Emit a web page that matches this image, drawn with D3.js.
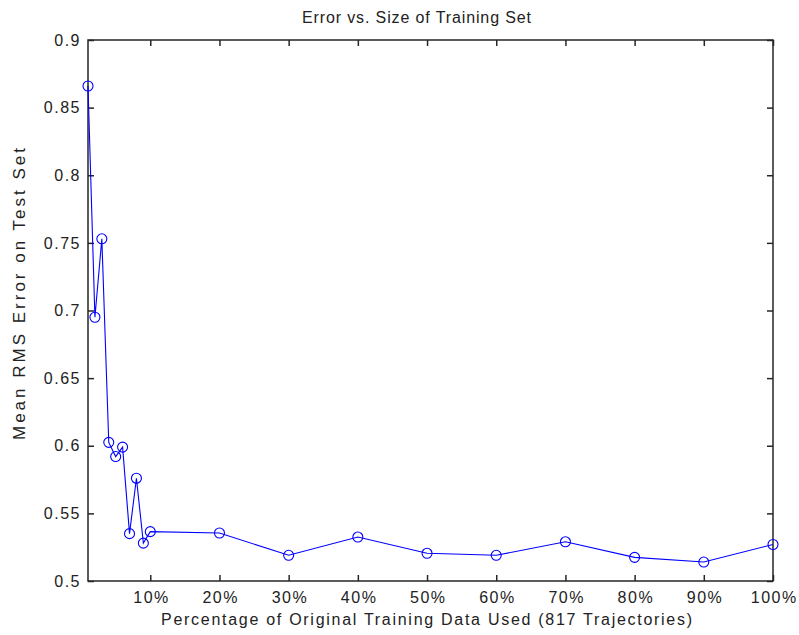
<!DOCTYPE html>
<html>
<head>
<meta charset="utf-8">
<script src="https://cdn.jsdelivr.net/npm/d3@7"></script>
<style>
  html, body { margin: 0; padding: 0; background: #fff; }
  svg text { font-family: "Liberation Sans", Arial, Helvetica, sans-serif; fill: #222; }
</style>
</head>
<body>
<svg id="chart" width="799" height="635"></svg>
<script>
// Percentage of the training set used, and the resulting mean RMS error
const trainingPct = [1, 2, 3, 4, 5, 6, 7, 8, 9, 10, 20, 30, 40, 50, 60, 70, 80, 90, 100];
const rmsError = [0.866, 0.695, 0.753, 0.6025, 0.592, 0.599, 0.535, 0.576, 0.528, 0.5365,
                  0.5355, 0.519, 0.5325, 0.5205, 0.519, 0.529, 0.5175, 0.514, 0.527];

const xTicks = [10, 20, 30, 40, 50, 60, 70, 80, 90, 100];
const yTicks = [0.5, 0.55, 0.6, 0.65, 0.7, 0.75, 0.8, 0.85, 0.9];

const titleText = "Error vs. Size of Training Set";
const xLabelText = "Percentage of Original Training Data Used (817 Trajectories)";
const yLabelText = "Mean RMS Error on Test Set";

const svg = d3.select("#chart");
const plotLeft = 88, plotRight = 773, plotTop = 40, plotBottom = 581;

const x = d3.scaleLinear().domain([1, 100]).range([plotLeft, plotRight]);
const y = d3.scaleLinear().domain([0.5, 0.9]).range([plotBottom, plotTop]);

const axisColor = "#262626";
const tickLen = 6;
const fontSize = 16;
const spacing = 1.5;

// Frame
svg.append("rect")
  .attr("x", plotLeft).attr("y", plotTop)
  .attr("width", plotRight - plotLeft).attr("height", plotBottom - plotTop)
  .attr("fill", "none").attr("stroke", axisColor).attr("stroke-width", 1.5);

// Axes with inward ticks on all four sides
const styleAxis = g => {
  g.select(".domain").remove();
  g.selectAll(".tick line").attr("stroke", axisColor).attr("stroke-width", 1.5);
  g.selectAll(".tick text").attr("font-size", fontSize).attr("fill", "#222")
    .attr("letter-spacing", spacing)
    .attr("font-family", "'Liberation Sans', Arial, sans-serif");
};

svg.append("g").attr("transform", `translate(0,${plotBottom})`)
  .call(d3.axisBottom(x).tickValues(xTicks).tickFormat(d => d + "%")
    .tickSizeInner(-tickLen).tickPadding(11))
  .call(styleAxis)
  .selectAll(".tick text").attr("dx", spacing / 2);
svg.append("g").attr("transform", `translate(0,${plotTop})`)
  .call(d3.axisTop(x).tickValues(xTicks).tickFormat("").tickSizeInner(-tickLen))
  .call(styleAxis);
svg.append("g").attr("transform", `translate(${plotLeft},0)`)
  .call(d3.axisLeft(y).tickValues(yTicks).tickFormat(d => String(d))
    .tickSizeInner(-tickLen).tickPadding(7))
  .call(styleAxis);
svg.append("g").attr("transform", `translate(${plotRight},0)`)
  .call(d3.axisRight(y).tickValues(yTicks).tickFormat("").tickSizeInner(-tickLen))
  .call(styleAxis);

// Data line and circle markers
const pts = trainingPct.map((p, i) => [p, rmsError[i]]);
svg.append("path")
  .datum(pts)
  .attr("fill", "none")
  .attr("stroke", "#0000ff")
  .attr("stroke-width", 1.1)
  .attr("d", d3.line().x(d => x(d[0])).y(d => y(d[1])));

svg.append("g").selectAll("circle")
  .data(pts)
  .join("circle")
  .attr("cx", d => x(d[0]))
  .attr("cy", d => y(d[1]))
  .attr("r", 5)
  .attr("fill", "none")
  .attr("stroke", "#0000ff")
  .attr("stroke-width", 1.1);

// Titles
svg.append("text")
  .attr("x", 302).attr("y", 23)
  .attr("font-size", fontSize)
  .attr("textLength", 229).attr("lengthAdjust", "spacing")
  .text(titleText);

svg.append("text")
  .attr("x", 161).attr("y", 625)
  .attr("font-size", fontSize)
  .attr("textLength", 531).attr("lengthAdjust", "spacing")
  .text(xLabelText);

svg.append("text")
  .attr("transform", `translate(25,440) rotate(-90)`)
  .attr("font-size", 17)
  .attr("textLength", 292).attr("lengthAdjust", "spacing")
  .text(yLabelText);
</script>
</body>
</html>
